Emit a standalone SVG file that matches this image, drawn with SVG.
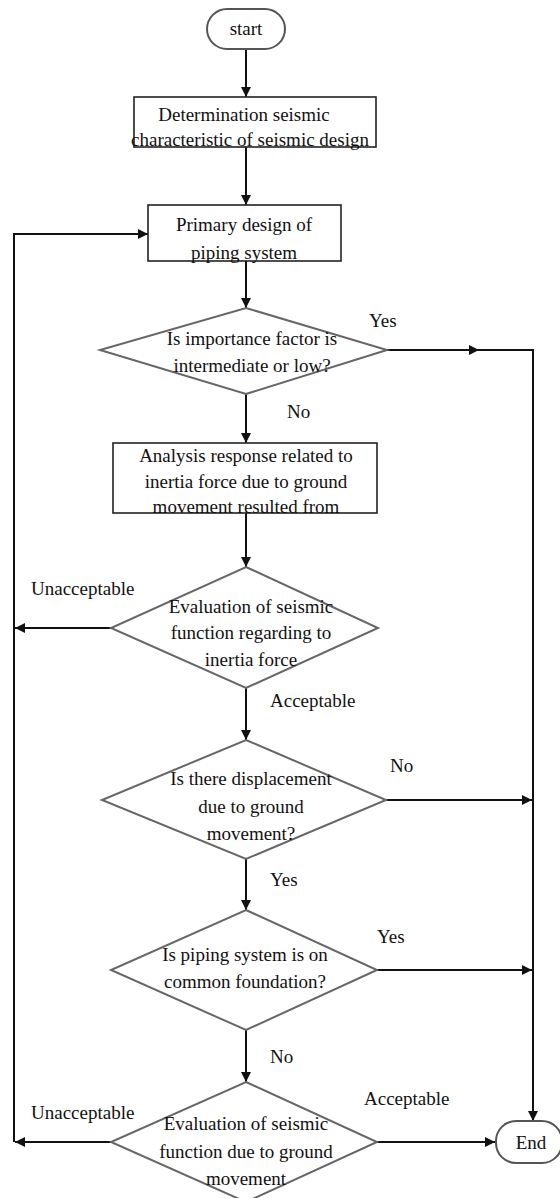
<svg xmlns="http://www.w3.org/2000/svg" width="560" height="1198" viewBox="0 0 560 1198">
<style>
text{font-family:"Liberation Serif","Times New Roman",serif;font-size:19px;fill:#111;text-anchor:middle}
.lbl{text-anchor:start}
.box{fill:#fff;stroke:#222;stroke-width:1.6}
.dia{fill:#fff;stroke:#666;stroke-width:2}
.term{fill:#fff;stroke:#555;stroke-width:2}
.c{fill:none;stroke:#111;stroke-width:2}
</style>
<defs>
<marker id="ah" viewBox="0 0 10 10" refX="10" refY="5" markerWidth="10" markerHeight="10" markerUnits="userSpaceOnUse" orient="auto"><path d="M0,0 L10,5 L0,10 z" fill="#111"/></marker>
<marker id="am" viewBox="0 0 10 10" refX="5" refY="5" markerWidth="10" markerHeight="10" markerUnits="userSpaceOnUse" orient="auto"><path d="M0,0 L10,5 L0,10 z" fill="#111"/></marker>
</defs>
<g id="connectors">
<line class="c" x1="246" y1="48" x2="246" y2="97" marker-end="url(#ah)"/>
<line class="c" x1="246" y1="147" x2="246" y2="205" marker-end="url(#ah)"/>
<line class="c" x1="246" y1="261" x2="246" y2="308" marker-end="url(#ah)"/>
<line class="c" x1="246" y1="394" x2="246" y2="443" marker-end="url(#ah)"/>
<line class="c" x1="246" y1="513" x2="246" y2="567" marker-end="url(#ah)"/>
<line class="c" x1="246" y1="688" x2="246" y2="740" marker-end="url(#ah)"/>
<line class="c" x1="246" y1="859" x2="246" y2="910" marker-end="url(#ah)"/>
<line class="c" x1="246" y1="1030" x2="246" y2="1082" marker-end="url(#ah)"/>
<path class="c" d="M387,350 H474" marker-end="url(#am)"/>
<path class="c" d="M470,350 H533 V1121" marker-end="url(#ah)"/>
<line class="c" x1="386" y1="800" x2="532" y2="800" marker-end="url(#ah)"/>
<line class="c" x1="377" y1="970" x2="532" y2="970" marker-end="url(#ah)"/>
<line class="c" x1="377" y1="1142" x2="495" y2="1142" marker-end="url(#ah)"/>
<line class="c" x1="111" y1="628" x2="15" y2="628" marker-end="url(#ah)"/>
<line class="c" x1="111" y1="1142" x2="15" y2="1142" marker-end="url(#ah)"/>
<path class="c" d="M14,1142 V234 H148" marker-end="url(#ah)"/>
<text class="lbl" x="369" y="327">Yes</text>
<text class="lbl" x="287" y="418">No</text>
<text class="lbl" x="31" y="595">Unacceptable</text>
<text class="lbl" x="270" y="707">Acceptable</text>
<text class="lbl" x="390" y="772">No</text>
<text class="lbl" x="270" y="886">Yes</text>
<text class="lbl" x="377" y="943">Yes</text>
<text class="lbl" x="270" y="1063">No</text>
<text class="lbl" x="31" y="1119">Unacceptable</text>
<text class="lbl" x="364" y="1105">Acceptable</text>
</g>
<g id="start">
<rect class="term" x="207" y="9" width="78" height="40" rx="20"/>
<text x="246" y="35">start</text>
</g>
<g id="determination">
<rect class="box" x="134" y="97" width="242" height="50"/>
<text x="244" y="121">Determination seismic</text>
<text x="250" y="146">characteristic of seismic design</text>
</g>
<g id="primary-design">
<rect class="box" x="148" y="205" width="193" height="56"/>
<text x="244" y="231">Primary design of</text>
<text x="244" y="259">piping system</text>
</g>
<g id="importance">
<polygon class="dia" points="246,308 387,350 246,394 100,350"/>
<text x="252" y="345">Is importance factor is</text>
<text x="252" y="372">intermediate or low?</text>
</g>
<g id="analysis">
<rect class="box" x="113" y="443" width="264" height="70"/>
<text x="246" y="462">Analysis response related to</text>
<text x="246" y="488">inertia force due to ground</text>
<text x="246" y="513">movement resulted from</text>
</g>
<g id="eval-inertia">
<polygon class="dia" points="246,567 378,628 246,688 111,628"/>
<text x="251" y="613">Evaluation of seismic</text>
<text x="251" y="639">function regarding to</text>
<text x="251" y="666">inertia force</text>
</g>
<g id="displacement">
<polygon class="dia" points="246,740 386,800 246,859 102,800"/>
<text x="251" y="785">Is there displacement</text>
<text x="251" y="813">due to ground</text>
<text x="251" y="840">movement?</text>
</g>
<g id="common-foundation">
<polygon class="dia" points="246,910 377,970 246,1030 111,970"/>
<text x="245" y="961">Is piping system is on</text>
<text x="245" y="988">common foundation?</text>
</g>
<g id="eval-ground">
<polygon class="dia" points="246,1082 377,1142 246,1202 111,1142"/>
<text x="246" y="1130">Evaluation of seismic</text>
<text x="246" y="1158">function due to ground</text>
<text x="246" y="1185">movement</text>
</g>
<g id="end">
<rect class="term" x="496" y="1121" width="66" height="42" rx="20"/>
<text x="531" y="1149">End</text>
</g>
</svg>
